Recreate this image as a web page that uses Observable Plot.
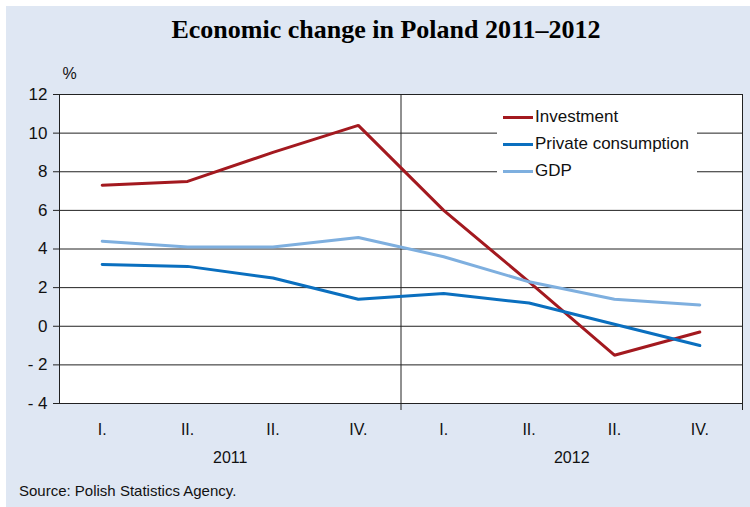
<!DOCTYPE html>
<html>
<head>
<meta charset="utf-8">
<script src="https://cdn.jsdelivr.net/npm/d3@7"></script>
<script src="https://cdn.jsdelivr.net/npm/@observablehq/plot@0.6"></script>
<style>
  html, body { margin: 0; padding: 0; background: #fff; }
  #panel { position: absolute; left: 6px; top: 6px; width: 744px; height: 501px; background: #dfe7f3; font-family: "Liberation Sans", Arial, sans-serif; }
  #title { position: absolute; left: 0; width: 760px; top: 9px; text-align: center; font-family: "Liberation Serif", "Times New Roman", serif; font-weight: bold; font-size: 26px; color: #000; }
  #chart { position: absolute; left: 0; top: 54px; }
  #legend { position: absolute; left: 491px; top: 95px; width: 200px; height: 88px; background: #fff; }
  .item { position: absolute; left: 6px; height: 20px; font-size: 17px; color: #111; line-height: 20px; }
  .sw { position: absolute; left: 0; top: 9px; width: 30px; height: 3px; }
  .lab { position: absolute; left: 32px; top: 0; white-space: nowrap; }
  #source { position: absolute; left: 13px; top: 476px; font-size: 15px; color: #111; }
</style>
</head>
<body>
<div id="panel">
  <div id="title"></div>
  <div id="chart"></div>
  <div id="legend"></div>
  <div id="source"></div>
</div>
<script>
const title = "Economic change in Poland 2011–2012";
const source = "Source: Polish Statistics Agency.";
const quarterLabels = ["I.", "II.", "II.", "IV.", "I.", "II.", "II.", "IV."];
const years = ["2011", "2012"];
const yearCenters = [1.5, 5.5];
const yearBoundaries = [3.5, 7.5];
const seriesNames = ["Investment", "Private consumption", "GDP"];
const seriesColors = ["#a3191f", "#0a6fbf", "#7eafdf"];
const investment = [7.3, 7.5, 9.0, 10.4, 6.0, 2.3, -1.5, -0.3];
const privateConsumption = [3.2, 3.1, 2.5, 1.4, 1.7, 1.2, 0.1, -1.0];
const gdp = [4.4, 4.1, 4.1, 4.6, 3.6, 2.3, 1.4, 1.1];
const yTicks = [-4, -2, 0, 2, 4, 6, 8, 10, 12];
const gridValues = [-2, 0, 2, 4, 6, 8, 10];

document.getElementById("title").textContent = title;
document.getElementById("source").textContent = source;

const allSeries = [investment, privateConsumption, gdp];
const lineColor = "#222";

const chart = Plot.plot({
  width: 744,
  height: 414,
  marginLeft: 53,
  marginRight: 8,
  marginTop: 34,
  marginBottom: 71,
  style: { background: "transparent", fontFamily: "'Liberation Sans', Arial, sans-serif", fontSize: "15px", color: "#111" },
  x: { domain: [-0.5, 7.5], axis: null },
  y: { domain: [-4, 12], axis: null },
  marks: [
    Plot.frame({ fill: "#fff" }),
    Plot.ruleY(gridValues, { stroke: lineColor, strokeWidth: 1 }),
    Plot.ruleX([yearBoundaries[0]], { stroke: lineColor, strokeWidth: 1 }),
    Plot.frame({ stroke: lineColor, strokeWidth: 1 }),
    Plot.axisY({ ticks: yTicks, tickSize: 6, tickPadding: 6, stroke: lineColor, fontSize: 17,
      tickFormat: d => d < 0 ? "- " + Math.abs(d) : String(d) }),
    Plot.axisX({ ticks: yearBoundaries, tickSize: 7, text: null, stroke: lineColor }),
    Plot.axisX({ ticks: d3.range(quarterLabels.length), tickSize: 0, tickPadding: 20, fontSize: 16,
      tickFormat: i => quarterLabels[i] }),
    Plot.text(years, { x: (d, i) => yearCenters[i], y: -4, dy: 54, fontSize: 16, fill: "#111" }),
    Plot.text(["%"], { frameAnchor: "top-left", dx: 3, dy: -16, fontSize: 16, fill: "#111", lineAnchor: "bottom" }),
    ...allSeries.map((s, k) => Plot.lineY(s, { stroke: seriesColors[k], strokeWidth: 3, strokeLinejoin: "miter" }))
  ]
});
document.getElementById("chart").appendChild(chart);

const legend = document.getElementById("legend");
seriesNames.forEach((name, k) => {
  const item = document.createElement("div");
  item.className = "item";
  item.style.top = (6 + k * 27) + "px";
  item.innerHTML = `<div class="sw" style="background:${seriesColors[k]}"></div><div class="lab"></div>`;
  item.querySelector(".lab").textContent = name;
  legend.appendChild(item);
});
</script>
</body>
</html>
